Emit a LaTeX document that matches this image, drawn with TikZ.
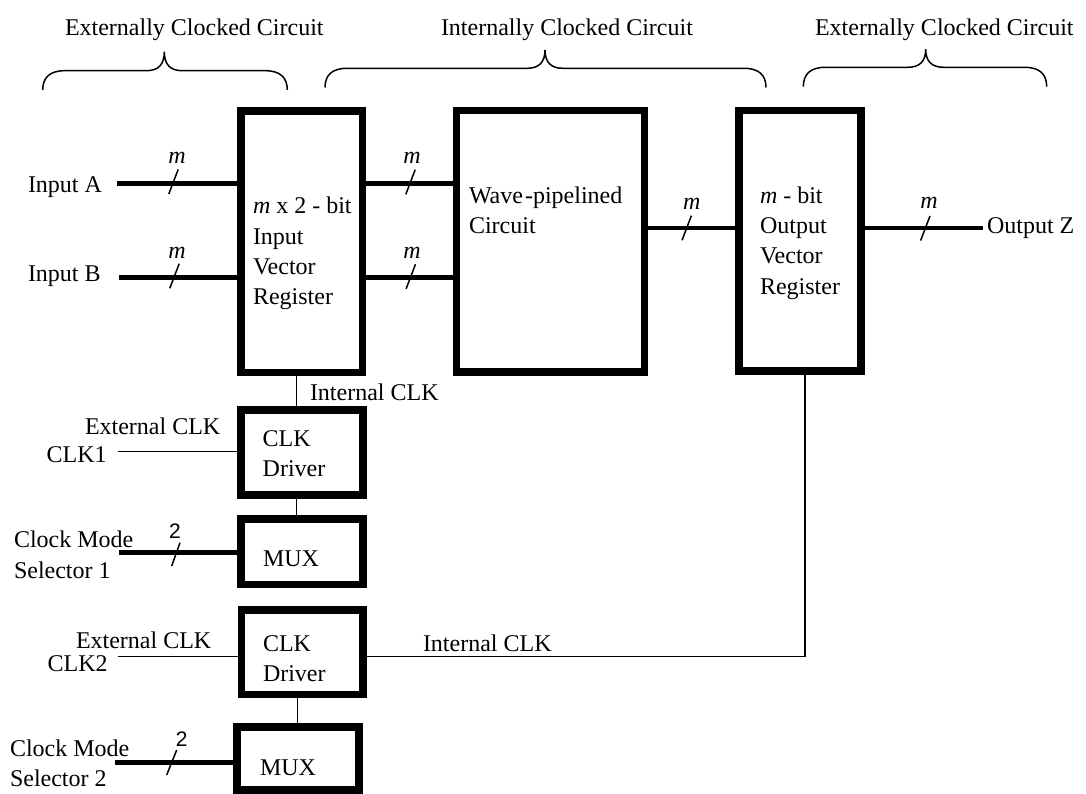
\documentclass[tikz,border=0pt]{standalone}
\usepackage{fontspec}
\setmainfont{Liberation Serif}
\newfontfamily\sansf{Liberation Sans}
\newcommand\mybrace[6]{%
  \draw[braceline] (#1,#4) .. controls (#1,#5+7) and (#1+7,#5) .. (#1+22,#5)
    -- (#3-18,#5) .. controls (#3-6,#5) and (#3,#5-6) .. (#3,#6)
    .. controls (#3,#5-6) and (#3+6,#5) .. (#3+18,#5)
    -- (#2-22,#5) .. controls (#2-7,#5) and (#2,#5+7) .. (#2,#4);}
\newcommand\busmark[6]{%
  \draw[slashline] (#1-4.7,#2+12.3) -- (#1+4.7,#2-12.3);
  \node[mlab] (#6) at (#3,#4) {#5};}
\begin{document}
\begin{tikzpicture}[x=1pt,y=-1pt,
  box/.style={draw, line width=7.5pt, inner sep=0pt},
  txt/.style={anchor=base west, inner sep=0pt, outer sep=0pt, font=\fontsize{24}{30}\selectfont},
  mlab/.style={anchor=base, inner sep=0pt, outer sep=0pt, font=\fontsize{24}{30}\selectfont\itshape},
  twolab/.style={anchor=base, inner sep=0pt, outer sep=0pt, font=\sansf\fontsize{21}{25}\selectfont},
  bus/.style={line width=4.5pt},
  thinline/.style={line width=1.4pt},
  slashline/.style={line width=1.5pt},
  braceline/.style={line width=1.5pt}]
\fill[white] (0,0) rectangle (1086,794);
\useasboundingbox (0,0) rectangle (1086,794);

% braces and headings
\mybrace{42.7}{287.3}{164.3}{90}{70.7}{51.7}
\mybrace{325}{766}{545}{87.5}{68.3}{50}
\mybrace{803.3}{1046.7}{925.7}{86.7}{67.3}{49.3}
\node[txt] (h1) at (65,36) {Externally Clocked Circuit};
\node[txt] (h2) at (441,36) {Internally Clocked Circuit};
\node[txt] (h3) at (815,36) {Externally Clocked Circuit};

% boxes
\node[box, minimum width=121.5pt, minimum height=261.5pt] (inreg) at (301.75,241.75) {};
\node[box, minimum width=187.6pt, minimum height=261.7pt] (wave) at (550.5,241.2) {};
\node[box, minimum width=122pt, minimum height=260.5pt] (outreg) at (800,240.75) {};
\node[box, minimum width=122pt, minimum height=85pt] (drv1) at (302,452.5) {};
\node[box, minimum width=122pt, minimum height=65.7pt] (mux1) at (302,551.85) {};
\node[box, minimum width=121.5pt, minimum height=84.5pt] (drv2) at (302.25,652.25) {};
\node[box, minimum width=122pt, minimum height=63pt] (mux2) at (298,758.5) {};

% box texts
\node[txt] (ir1) at (253,214) {\textit{m} x 2 - bit};
\node[txt] (ir2) at (253,244) {Input};
\node[txt] (ir3) at (253,274) {Vector};
\node[txt] (ir4) at (253,304) {Register};
\node[txt] (wv1) at (469,204) {Wave\kern2pt-pipelined};
\node[txt] (wv2) at (469,234) {Circuit};
\node[txt] (or1) at (760,204) {\textit{m} - bit};
\node[txt] (or2) at (760,234) {Output};
\node[txt] (or3) at (760,264) {Vector};
\node[txt] (or4) at (760,294) {Register};
\node[txt] (d1a) at (262.7,446.7) {CLK};
\node[txt] (d1b) at (262.7,476.7) {Driver};
\node[txt] (m1) at (263,566) {MUX};
\node[txt] (d2a) at (263,651.7) {CLK};
\node[txt] (d2b) at (263,681.7) {Driver};
\node[txt] (m2) at (260,775) {MUX};

% outside labels
\node[txt] (lA) at (28,192.7) {Input A};
\node[txt] (lB) at (28,281.7) {Input B};
\node[txt] (lZ) at (987,234) {Output Z};
\node[txt] (ic1) at (310,400) {Internal CLK};
\node[txt] (ec1) at (85,434) {External CLK};
\node[txt] (c1) at (46.7,462.7) {CLK1};
\node[txt] (cm1a) at (14,547.3) {Clock Mode};
\node[txt] (cm1b) at (14,578) {Selector 1};
\node[txt] (ec2) at (76,648) {External CLK};
\node[txt] (c2) at (47.7,671.7) {CLK2};
\node[txt] (ic2) at (423,651) {Internal CLK};
\node[txt] (cm2a) at (10,756.7) {Clock Mode};
\node[txt] (cm2b) at (10,786.7) {Selector 2};

% free ends
\coordinate (inA) at (117,183.3);
\coordinate (inB) at (119,277.7);
\coordinate (zout) at (983,228);
\coordinate (ck1) at (118,451.7);
\coordinate (ck2) at (118,656.5);
\coordinate (sel1) at (119,552.7);
\coordinate (sel2) at (115,762.7);

% buses
\draw[bus] (inA) -- (inA -| inreg.west);
\draw[bus] (inB) -- (inB -| inreg.west);
\draw[bus] (inA -| inreg.east) -- (inA -| wave.west);
\draw[bus] (inB -| inreg.east) -- (inB -| wave.west);
\draw[bus] (zout -| wave.east) -- (zout -| outreg.west);
\draw[bus] (zout -| outreg.east) -- (zout);
\draw[bus] (sel1) -- (sel1 -| mux1.west);
\draw[bus] (sel2) -- (sel2 -| mux2.west);

% bus marks
\busmark{173.5}{181.7}{177}{163.3}{m}{mA}
\busmark{174.5}{276}{177}{258.3}{m}{mB}
\busmark{410.5}{182}{412}{163.3}{m}{mC}
\busmark{410.8}{276.5}{412}{258.3}{m}{mD}
\busmark{686.7}{228}{691.7}{210}{m}{mE}
\busmark{925.3}{228.3}{929}{208.3}{m}{mF}
\draw[slashline] (171.7,566) -- (180,542.7);
\node[twolab] (two1) at (175,538.3) {2};
\draw[slashline] (166.7,775) -- (176.7,750);
\node[twolab] (two2) at (181.7,746.7) {2};

% clock lines
\draw[thinline] (inreg.south -| 296.7,0) -- (drv1.north -| 296.7,0);
\draw[thinline] (drv1.south -| 296.7,0) -- (mux1.north -| 296.7,0);
\draw[thinline] (drv2.south -| 297.7,0) -- (mux2.north -| 297.7,0);
\draw[thinline] (ck1) -- (ck1 -| drv1.west);
\draw[thinline] (ck2) -- (ck2 -| drv2.west);
\draw[thinline] (ck2 -| drv2.east) -| (outreg.south -| 805,0);
\end{tikzpicture}
\end{document}
